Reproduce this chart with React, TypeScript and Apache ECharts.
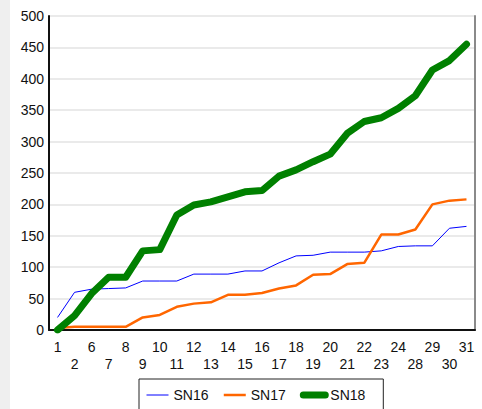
import React, { useEffect, useRef } from "react";
import * as echarts from "echarts";

const categories = ["1", "2", "6", "7", "8", "9", "10", "11", "12", "13", "14", "15", "16", "17", "18", "19", "20", "21", "22", "23", "24", "28", "29", "30", "31"];
const sn16 = [20, 60, 65, 66, 67, 78, 78, 78, 89, 89, 89, 94, 94, 107, 118, 119, 124, 124, 124, 126, 133, 134, 134, 162, 165];
const sn17 = [3, 5, 5, 5, 5, 20, 24, 37, 42, 44, 56, 56, 59, 66, 71, 88, 89, 105, 107, 152, 152, 160, 200, 206, 208];
const sn18 = [0, 23, 58, 84, 84, 126, 128, 183, 199, 204, 212, 220, 222, 245, 255, 268, 280, 313, 332, 338, 353, 373, 414, 429, 455];
const yTicks = { min: 0, max: 500, interval: 50 };

const FONT = "'Liberation Sans', Arial, sans-serif";

export default function App() {
  const ref = useRef<HTMLDivElement>(null);
  useEffect(() => {
    if (!ref.current) return;
    const chart = echarts.init(ref.current, undefined, { renderer: "svg" });
    chart.setOption({
      animation: false,
      backgroundColor: "#ffffff",
      textStyle: { fontFamily: FONT },
      graphic: [
        { type: "rect", left: 0, top: 0, z: -10, shape: { width: 10, height: 409 }, style: { fill: "#efefef" } },
      ],
      grid: { left: 49, right: 7, top: 16, bottom: 79 },
      legend: {
        left: 139,
        top: 379,
        padding: [9, 18, 20, 7],
        borderColor: "#222",
        borderWidth: 1,
        itemWidth: 22,
        itemHeight: 14,
        itemGap: 14,
        itemStyle: { opacity: 0 },
        textStyle: { fontSize: 14, color: "#111", fontFamily: FONT },
        data: [
          { name: "SN16", lineStyle: { width: 1 } },
          { name: "SN17", lineStyle: { width: 2.5 } },
          { name: "SN18", lineStyle: { width: 7, cap: "round" } },
        ],
      },
      xAxis: {
        type: "category",
        data: categories,
        boundaryGap: true,
        axisLine: { lineStyle: { color: "#111", width: 2 } },
        axisTick: { show: false },
        axisLabel: {
          interval: 0,
          fontSize: 14,
          color: "#111",
          margin: 8,
          lineHeight: 17,
          fontFamily: FONT,
          formatter: (v: string, i: number) => (i % 2 === 1 ? "\n" + v : v),
        },
        splitLine: { show: false },
      },
      yAxis: [
        {
          type: "value",
          min: yTicks.min,
          max: yTicks.max,
          interval: yTicks.interval,
          axisLine: { show: true, lineStyle: { color: "#111", width: 2 } },
          axisTick: { show: false },
          axisLabel: { fontSize: 14, color: "#111", margin: 5, fontFamily: FONT },
          splitLine: { lineStyle: { color: "#e3e3e3", width: 1.5 } },
        },
        {
          type: "value",
          position: "right",
          min: yTicks.min,
          max: yTicks.max,
          interval: yTicks.interval,
          axisLine: { show: true, lineStyle: { color: "#8a8a8a", width: 2 } },
          axisTick: { show: false },
          axisLabel: { show: false },
          splitLine: { show: false },
        },
      ],
      series: [
        {
          name: "SN16",
          type: "line",
          data: sn16,
          symbol: "none",
          color: "#0000ff",
          lineStyle: { width: 1, color: "#0000ff" },
        },
        {
          name: "SN17",
          type: "line",
          data: sn17,
          symbol: "none",
          color: "#ff6600",
          lineStyle: { width: 2.5, color: "#ff6600" },
        },
        {
          name: "SN18",
          type: "line",
          data: sn18,
          symbol: "none",
          color: "#008000",
          lineStyle: { width: 7, color: "#008000", cap: "round", join: "round" },
        },
      ],
    });
    return () => chart.dispose();
  }, []);
  return (
    <div style={{ position: "fixed", left: 0, top: 0, width: 482, height: 409 }}>
      <div ref={ref} style={{ width: 482, height: 409 }} />
    </div>
  );
}
